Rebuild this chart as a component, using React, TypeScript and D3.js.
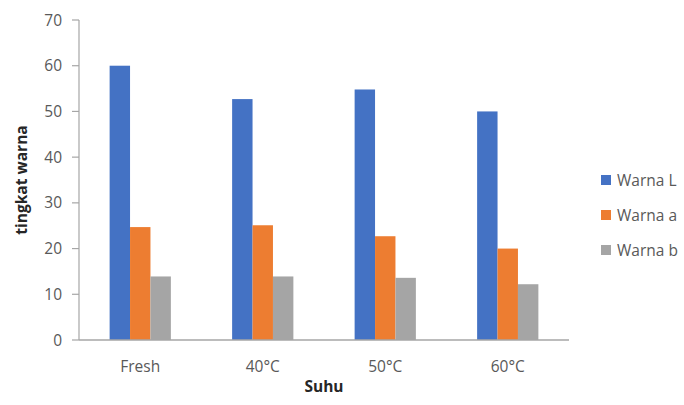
import React from "react";
import * as d3 from "d3";

const categories = ["Fresh", "40°C", "50°C", "60°C"];
const seriesNames = ["Warna L", "Warna a", "Warna b"];
const warnaL = [60, 52.7, 54.8, 50.0];
const warnaA = [24.7, 25.1, 22.7, 20.0];
const warnaB = [13.9, 13.9, 13.6, 12.2];
const yTicks = [0, 10, 20, 30, 40, 50, 60, 70];
const colors = ["#4472C4", "#ED7D31", "#A5A5A5"];

const W = 684;
const H = 405;
const plot = { left: 79, right: 569, top: 20, bottom: 340 };
const font = "'Open Sans', 'Noto Sans', sans-serif";
const textColor = "#595959";
const axisColor = "#A6A6A6";

export default function App() {
  const series = [warnaL, warnaA, warnaB];
  const x = d3
    .scaleBand<string>()
    .domain(categories)
    .range([plot.left, plot.right])
    .paddingInner(0.5)
    .paddingOuter(0.25);
  const x1 = d3
    .scaleBand<string>()
    .domain(seriesNames)
    .range([0, x.bandwidth()]);
  const y = d3.scaleLinear().domain([0, 70]).range([plot.bottom, plot.top]);

  return (
    <svg
      width={W}
      height={H}
      style={{ position: "absolute", left: 0, top: 0, background: "#fff" }}
      fontFamily={font}
    >
      {/* y axis */}
      <line x1={plot.left} x2={plot.left} y1={plot.top} y2={plot.bottom} stroke={axisColor} strokeWidth={1.2} />
      {yTicks.map((t) => (
        <g key={t}>
          <line x1={plot.left - 7} x2={plot.left} y1={y(t)} y2={y(t)} stroke={axisColor} strokeWidth={1.2} />
          <text
            x={plot.left - 17}
            y={y(t)}
            dy="0.36em"
            textAnchor="end"
            fontSize={15.5}
            fill={textColor}
          >
            {t}
          </text>
        </g>
      ))}

      {/* bars */}
      {categories.map((c, i) => (
        <g key={c} transform={`translate(${x(c)},0)`}>
          {series.map((s, j) => (
            <rect
              key={j}
              x={x1(seriesNames[j])}
              y={y(s[i])}
              width={x1.bandwidth()}
              height={y(0) - y(s[i])}
              fill={colors[j]}
            />
          ))}
        </g>
      ))}

      {/* x axis */}
      <line x1={plot.left} x2={plot.right} y1={plot.bottom} y2={plot.bottom} stroke={axisColor} strokeWidth={1.5} />
      {categories.map((c) => (
        <text
          key={c}
          x={(x(c) ?? 0) + x.bandwidth() / 2}
          y={371.5}
          textAnchor="middle"
          fontSize={15.5}
          fill={textColor}
        >
          {c}
        </text>
      ))}

      {/* axis titles */}
      <text
        x={(plot.left + plot.right) / 2}
        y={392}
        textAnchor="middle"
        fontSize={15.5}
        fontWeight="bold"
        fill="#262626"
      >
        Suhu
      </text>
      <text
        transform={`translate(27,${(plot.top + plot.bottom) / 2}) rotate(-90)`}
        textAnchor="middle"
        fontSize={15.5}
        fontWeight="bold"
        fill="#262626"
      >
        tingkat warna
      </text>

      {/* legend */}
      {seriesNames.map((n, j) => (
        <g key={n} transform={`translate(601,${180 + j * 35})`}>
          <rect x={0} y={-5} width={10} height={10} fill={colors[j]} />
          <text x={16} y={0} dy="0.36em" fontSize={15.5} fill={textColor}>
            {n}
          </text>
        </g>
      ))}
    </svg>
  );
}
